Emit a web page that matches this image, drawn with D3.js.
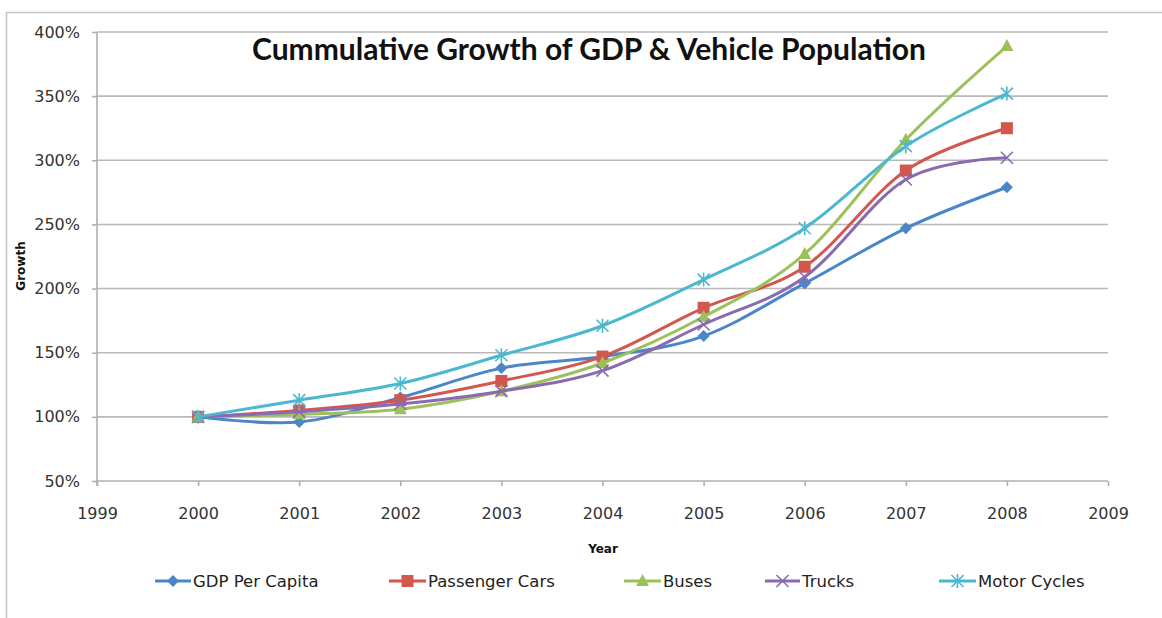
<!DOCTYPE html>
<html>
<head>
<meta charset="utf-8">
<script src="https://cdn.jsdelivr.net/npm/d3@7"></script>
<style>
  html, body { margin: 0; padding: 0; background: #fff; }
  svg { display: block; }
</style>
</head>
<body>
<svg id="chart" width="1162" height="618"></svg>
<script>
// Cumulative growth indexed to 2000 = 100%
const years = [2000, 2001, 2002, 2003, 2004, 2005, 2006, 2007, 2008];
const gdpPerCapita   = [100, 96, 115, 138, 147, 163, 204, 247, 279];
const passengerCars  = [100, 105, 113, 128, 147, 185, 217, 292, 325];
const buses          = [100, 102, 106, 120, 142, 178, 227, 316, 389];
const trucks         = [100, 104, 110, 120, 136, 172, 209, 285, 302];
const motorCycles    = [100, 113, 126, 148, 171, 207, 247, 311, 352];

const seriesNames = ["GDP Per Capita", "Passenger Cars", "Buses", "Trucks", "Motor Cycles"];
const yTicks = [50, 100, 150, 200, 250, 300, 350, 400];
const xTicks = [1999, 2000, 2001, 2002, 2003, 2004, 2005, 2006, 2007, 2008, 2009];

const series = [
  { name: seriesNames[0], values: gdpPerCapita,  color: "#4a86c8", marker: "diamond" },
  { name: seriesNames[1], values: passengerCars, color: "#d2574f", marker: "square" },
  { name: seriesNames[2], values: buses,         color: "#9dc15a", marker: "triangle" },
  { name: seriesNames[3], values: trucks,        color: "#8a6ab0", marker: "cross" },
  { name: seriesNames[4], values: motorCycles,   color: "#4bb8d0", marker: "star" }
];

const labelFont = "'DejaVu Sans', Verdana, sans-serif";
const svg = d3.select("#chart");
const plot = { left: 97, right: 1108, top: 32, bottom: 481 };

// Outer chart frame
svg.append("rect")
  .attr("x", 6.5).attr("y", 12.5)
  .attr("width", 1170).attr("height", 620)
  .attr("fill", "#fff")
  .attr("stroke", "#c4c4c4").attr("stroke-width", 1.5);

const x = d3.scaleLinear().domain([1999, 2009]).range([plot.left, plot.right]);
const y = d3.scaleLinear().domain([50, 400]).range([plot.bottom, plot.top]);

// Horizontal gridlines
svg.append("g")
  .selectAll("line")
  .data(yTicks.slice(1))
  .join("line")
  .attr("x1", plot.left).attr("x2", plot.right)
  .attr("y1", d => y(d)).attr("y2", d => y(d))
  .attr("stroke", "#b9b9b9").attr("stroke-width", 1.6);

// Y axis
const yAxis = svg.append("g")
  .attr("transform", `translate(${plot.left},0)`)
  .call(d3.axisLeft(y).tickValues(yTicks).tickFormat(d => d + "%").tickSize(5).tickPadding(12));
yAxis.select(".domain").attr("stroke", "#b0b0b0").attr("stroke-width", 1.6)
  .attr("d", `M0,${plot.top}V${plot.bottom + 5}`);
yAxis.selectAll(".tick line").attr("stroke", "#b0b0b0").attr("stroke-width", 1.6);
yAxis.selectAll(".tick text")
  .attr("fill", "#333").attr("font-family", labelFont).attr("font-size", 16);

// X axis
const xAxis = svg.append("g")
  .attr("transform", `translate(0,${plot.bottom})`)
  .call(d3.axisBottom(x).tickValues(xTicks).tickFormat(d3.format("d")).tickSize(5).tickPadding(22));
xAxis.select(".domain").attr("stroke", "#b0b0b0").attr("stroke-width", 1.6)
  .attr("d", `M${plot.left},0H${plot.right}`);
xAxis.selectAll(".tick line").attr("stroke", "#b0b0b0").attr("stroke-width", 1.6);
xAxis.selectAll(".tick text")
  .attr("fill", "#333").attr("font-family", labelFont).attr("font-size", 16);

// Axis titles
svg.append("text")
  .attr("transform", `translate(25,266) rotate(-90)`)
  .attr("text-anchor", "middle")
  .attr("font-family", labelFont)
  .attr("font-size", 12).attr("font-weight", "bold").attr("fill", "#111")
  .text("Growth");

svg.append("text")
  .attr("x", 603).attr("y", 553)
  .attr("text-anchor", "middle")
  .attr("font-family", labelFont)
  .attr("font-size", 12).attr("font-weight", "bold").attr("fill", "#111")
  .text("Year");

// Chart title
svg.append("text")
  .attr("x", 589).attr("y", 60)
  .attr("text-anchor", "middle")
  .attr("font-family", "Lato, 'Open Sans', sans-serif")
  .attr("font-size", 30).attr("font-weight", "bold").attr("fill", "#111")
  .text("Cummulative Growth of GDP & Vehicle Population");

// Marker shapes
function drawMarker(g, type, color) {
  if (type === "diamond") {
    g.append("path").attr("d", "M0,-6L6,0L0,6L-6,0Z").attr("fill", color);
  } else if (type === "square") {
    g.append("rect").attr("x", -6).attr("y", -6).attr("width", 12).attr("height", 12).attr("fill", color);
  } else if (type === "triangle") {
    g.append("path").attr("d", "M0,-7L6.5,5L-6.5,5Z").attr("fill", color);
  } else if (type === "cross") {
    g.append("path").attr("d", "M-6,-6L6,6M-6,6L6,-6").attr("stroke", color).attr("stroke-width", 1.6).attr("fill", "none");
  } else if (type === "star") {
    g.append("path").attr("d", "M-6,-6L6,6M-6,6L6,-6M0,-7V7").attr("stroke", color).attr("stroke-width", 1.6).attr("fill", "none");
  }
}

const line = d3.line()
  .x((d, i) => x(years[i]))
  .y(d => y(d))
  .curve(d3.curveCardinal.tension(0));

const seriesG = svg.append("g")
  .selectAll("g")
  .data(series)
  .join("g");

seriesG.append("path")
  .attr("d", d => line(d.values))
  .attr("fill", "none")
  .attr("stroke", d => d.color)
  .attr("stroke-width", 3)
  .attr("stroke-linejoin", "round");

seriesG.each(function(s) {
  const g = d3.select(this);
  s.values.forEach((v, i) => {
    drawMarker(g.append("g").attr("transform", `translate(${x(years[i])},${y(v)})`), s.marker, s.color);
  });
});

// Legend
const legendItems = [
  { lineX: 155, textX: 193 },
  { lineX: 389, textX: 428 },
  { lineX: 624, textX: 663 },
  { lineX: 765, textX: 802 },
  { lineX: 939, textX: 978 }
];
const legendY = 581;
const legend = svg.append("g")
  .selectAll("g")
  .data(series)
  .join("g");

legend.each(function(s, i) {
  const g = d3.select(this);
  const it = legendItems[i];
  g.append("line")
    .attr("x1", it.lineX).attr("x2", it.textX - 2)
    .attr("y1", legendY).attr("y2", legendY)
    .attr("stroke", s.color).attr("stroke-width", 3);
  drawMarker(g.append("g").attr("transform", `translate(${(it.lineX + it.textX - 2) / 2},${legendY})`), s.marker, s.color);
  g.append("text")
    .attr("x", it.textX).attr("y", legendY + 6)
    .attr("font-family", labelFont)
    .attr("font-size", 16.5).attr("fill", "#222")
    .text(s.name);
});
</script>
</body>
</html>
